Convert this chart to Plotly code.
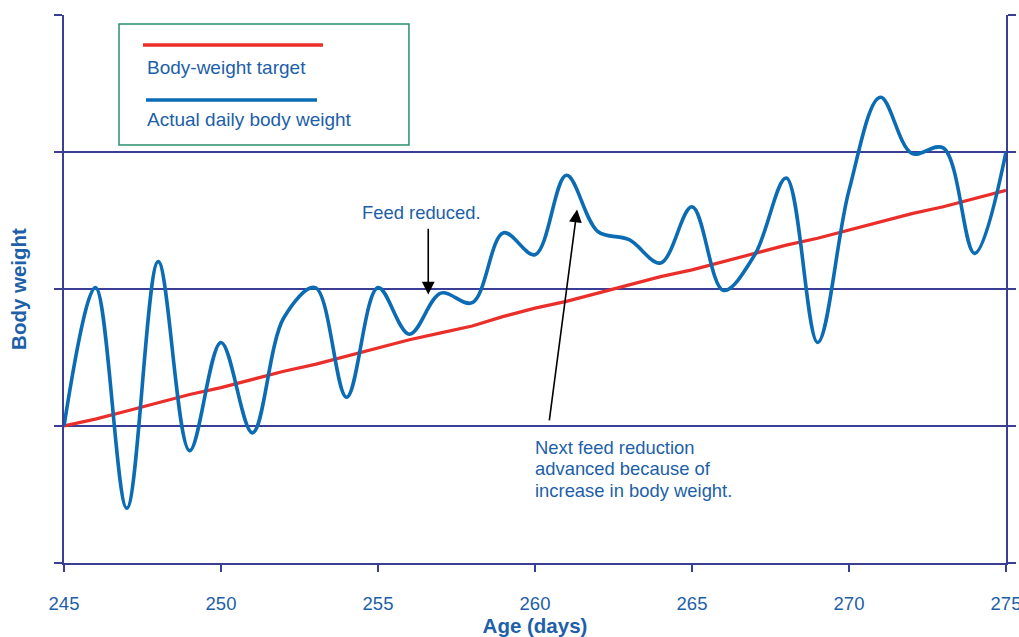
import plotly.graph_objects as go

# Age in days
days = list(range(245, 276))

# Body-weight target (relative units, one value per day)
target = [1.00, 1.05, 1.11, 1.17, 1.23, 1.28, 1.34, 1.40, 1.45, 1.51,
          1.57, 1.63, 1.68, 1.73, 1.80, 1.86, 1.91, 1.97, 2.03, 2.09,
          2.14, 2.20, 2.26, 2.32, 2.37, 2.43, 2.49, 2.55, 2.60, 2.66, 2.72]

# Actual daily body weight (relative units)
actual = [1.00, 2.01, 0.40, 2.20, 0.82, 1.61, 0.95, 1.79, 2.01, 1.21,
          2.01, 1.67, 1.97, 1.90, 2.41, 2.25, 2.83, 2.42, 2.36, 2.19,
          2.60, 1.99, 2.25, 2.81, 1.61, 2.72, 3.40, 2.99, 3.03, 2.26, 3.00]

x_ticks = [245, 250, 255, 260, 265, 270, 275]
y_grid = [0, 1, 2, 3, 4]

callout_lines = ["Next feed reduction", "advanced because of", "increase in body weight."]
callout_y = [0.845, 0.688, 0.531]

NAVY = "#3a3f95"
BLUE = "#0b6cb4"
RED = "#ea2e2a"
TEXT = "#1d5fa8"
FONT = "Liberation Sans, Arial, sans-serif"

fig = go.Figure()

fig.add_trace(go.Scatter(
    x=days, y=target, mode="lines",
    line=dict(color=RED, width=3.2),
    name="Body-weight target", hoverinfo="skip",
))
fig.add_trace(go.Scatter(
    x=days, y=actual, mode="lines",
    line=dict(color=BLUE, width=3.6, shape="spline", smoothing=1.0),
    name="Actual daily body weight", hoverinfo="skip",
))

# Hand-made legend box
fig.add_shape(type="rect", xref="paper", yref="paper",
              x0=0.0584, x1=0.3662, y0=0.7628, y1=0.9836,
              line=dict(color="#2a8f6f", width=1.5), fillcolor="white", layer="above")
fig.add_shape(type="line", xref="paper", yref="paper",
              x0=0.0839, x1=0.2749, y0=0.9453, y1=0.9453,
              line=dict(color=RED, width=3.5), layer="above")
fig.add_shape(type="line", xref="paper", yref="paper",
              x0=0.0870, x1=0.2686, y0=0.8449, y1=0.8449,
              line=dict(color=BLUE, width=3.5), layer="above")
fig.add_annotation(xref="paper", yref="paper", x=0.0855, y=0.9051,
                   xanchor="left", yanchor="middle", showarrow=False,
                   text="Body-weight target", font=dict(family=FONT, size=19, color=TEXT))
fig.add_annotation(xref="paper", yref="paper", x=0.0855, y=0.8084,
                   xanchor="left", yanchor="middle", showarrow=False,
                   text="Actual daily body weight", font=dict(family=FONT, size=19, color=TEXT))

# Callouts
fig.add_annotation(x=256.37, y=2.56, xanchor="center", yanchor="middle",
                   showarrow=False, text="Feed reduced.",
                   font=dict(family=FONT, size=18.4, color=TEXT))
fig.add_annotation(x=256.6, y=1.96, ax=256.6, ay=2.45, axref="x", ayref="y",
                   text="", showarrow=True, arrowhead=2, arrowsize=1.6,
                   arrowwidth=1.6, arrowcolor="black")
for line_text, yv in zip(callout_lines, callout_y):
    fig.add_annotation(x=259.94, y=yv, xanchor="left", yanchor="middle",
                       showarrow=False, text=line_text,
                       font=dict(family=FONT, size=18.4, color=TEXT))
fig.add_annotation(x=261.34, y=2.58, ax=260.45, ay=1.03, axref="x", ayref="y",
                   text="", showarrow=True, arrowhead=2, arrowsize=1.6,
                   arrowwidth=1.6, arrowcolor="black")

fig.update_layout(
    width=1019, height=637,
    margin=dict(l=64, r=13, t=15, b=74),
    paper_bgcolor="white", plot_bgcolor="white",
    showlegend=False,
    font=dict(family=FONT, color=TEXT),
)
fig.update_xaxes(
    range=[245, 275], tickvals=x_ticks, ticktext=[str(v) for v in x_ticks],
    showgrid=False, zeroline=False, automargin=False,
    showline=True, linecolor=NAVY, linewidth=2,
    ticks="outside", ticklen=7, tickwidth=2, tickcolor=NAVY,
    ticklabelstandoff=16, ticklabeloverflow="allow",
    tickfont=dict(family=FONT, size=18.5, color=TEXT),
    title=dict(text="<b>Age (days)</b>", font=dict(family=FONT, size=20.5, color=TEXT), standoff=4),
)
fig.update_yaxes(
    range=[0, 4], tickvals=y_grid, showticklabels=False,
    showgrid=True, gridcolor=NAVY, gridwidth=1.6, zeroline=False, automargin=False,
    showline=True, linecolor=NAVY, linewidth=2, mirror="allticks",
    ticks="outside", ticklen=8, tickwidth=2, tickcolor=NAVY,
    title=dict(text="<b>Body weight</b>", font=dict(family=FONT, size=20.5, color=TEXT), standoff=22),
)

fig.write_html("out.html")
